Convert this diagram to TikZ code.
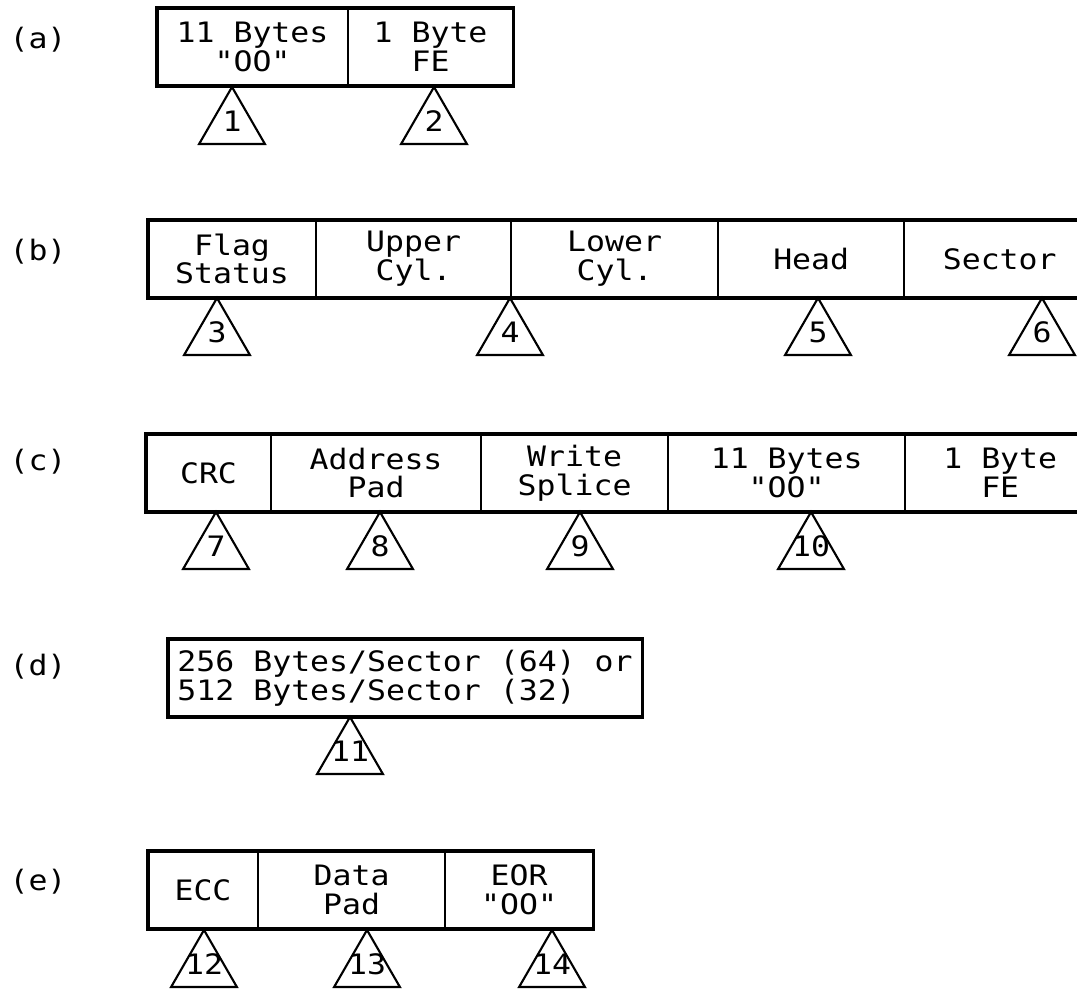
\documentclass[tikz,border=0pt]{standalone}
\usepackage{fontspec}
\newfontfamily\dotfont[FakeStretch=1.12]{DejaVu Sans Mono}
\usetikzlibrary{positioning,fit,shapes.geometric}
\tikzset{
  fieldbox/.style={
    draw=black,
    line width=1.1pt,
    minimum height=1.95cm,
    inner sep=0pt,
    outer sep=0pt,
    align=center,
    font={\dotfont\fontsize{20}{20.5}\selectfont}
  },
  rowframe/.style={
    draw=black,
    line width=2.2pt,
    inner sep=0pt,
    outer sep=0pt
  },
  marktri/.style={
    draw=black,
    line width=1.5pt,
    regular polygon,
    regular polygon sides=3,
    minimum size=1.9cm,
    inner sep=0pt,
    outer sep=0pt,
    anchor=corner 1
  },
  marknum/.style={
    inner sep=0pt,
    font={\dotfont\fontsize{20}{20.5}\selectfont}
  },
  rowlabel/.style={
    inner sep=0pt,
    font={\dotfont\fontsize{20}{20.5}\selectfont}
  }
}

\begin{document}
\begin{tikzpicture}[x=0.025cm, y=-0.025cm]
\path[use as bounding box, fill=white] (0,0) rectangle (1077,993);
\clip (0,0) rectangle (1077,993);

% (a)
\node[rowlabel] (la) at (38,40) {(a)};
\node[fieldbox, minimum width=4.775cm, anchor=north west] (a1) at (157,8) {11 Bytes\\"OO"};
\node[fieldbox, minimum width=4.125cm, right=0pt of a1] (a2) {1 Byte\\FE};
\node[rowframe, fit=(a1)(a2)] (rowa) {};

% (b)
\node[rowlabel] (lb) at (38,252) {(b)};
\node[fieldbox, minimum width=4.2cm, anchor=north west] (b1) at (148,220) {Flag\\Status};
\node[fieldbox, minimum width=4.875cm, right=0pt of b1] (b2) {Upper\\Cyl.};
\node[fieldbox, minimum width=5.175cm, right=0pt of b2] (b3) {Lower\\Cyl.};
\node[fieldbox, minimum width=4.65cm, right=0pt of b3] (b4) {Head};
\node[fieldbox, minimum width=4.775cm, right=0pt of b4] (b5) {Sector};
\node[rowframe, fit=(b1)(b5)] (rowb) {};

% (c)
\node[rowlabel] (lc) at (38,462) {(c)};
\node[fieldbox, minimum width=3.125cm, anchor=north west] (c1) at (146,434) {CRC};
\node[fieldbox, minimum width=5.25cm, right=0pt of c1] (c2) {Address\\Pad};
\node[fieldbox, minimum width=4.675cm, right=0pt of c2] (c3) {Write\\Splice};
\node[fieldbox, minimum width=5.925cm, right=0pt of c3] (c4) {11 Bytes\\"OO"};
\node[fieldbox, minimum width=4.75cm, right=0pt of c4] (c5) {1 Byte\\FE};
\node[rowframe, fit=(c1)(c5)] (rowc) {};

% (d)
\node[rowlabel] (ld) at (38,667) {(d)};
\node[fieldbox, minimum width=11.85cm, align=left, anchor=north west] (d1) at (168,639)
  {256 Bytes/Sector (64) or\\512 Bytes/Sector (32)};
\node[rowframe, fit=(d1)] (rowd) {};

% (e)
\node[rowlabel] (le) at (38,882) {(e)};
\node[fieldbox, minimum width=2.75cm, anchor=north west] (e1) at (148,851) {ECC};
\node[fieldbox, minimum width=4.675cm, right=0pt of e1] (e2) {Data\\Pad};
\node[fieldbox, minimum width=3.7cm, right=0pt of e2] (e3) {EOR\\"OO"};
\node[rowframe, fit=(e1)(e3)] (rowe) {};

% numbered markers under the fields
\foreach \n/\x/\y in {1/232/87, 2/434/87, 3/217/298, 4/510/298, 5/818/298, 6/1042/298,
                      7/216/512, 8/380/512, 9/580/512, 10/811/512, 11/350/717,
                      12/204/930, 13/367/930, 14/552/930} {
  \node[marktri] (t\n) at (\x,\y) {};
  \node[marknum] (n\n) at ([yshift=0.1cm]t\n.center) {\n};
}
\end{tikzpicture}
\end{document}
